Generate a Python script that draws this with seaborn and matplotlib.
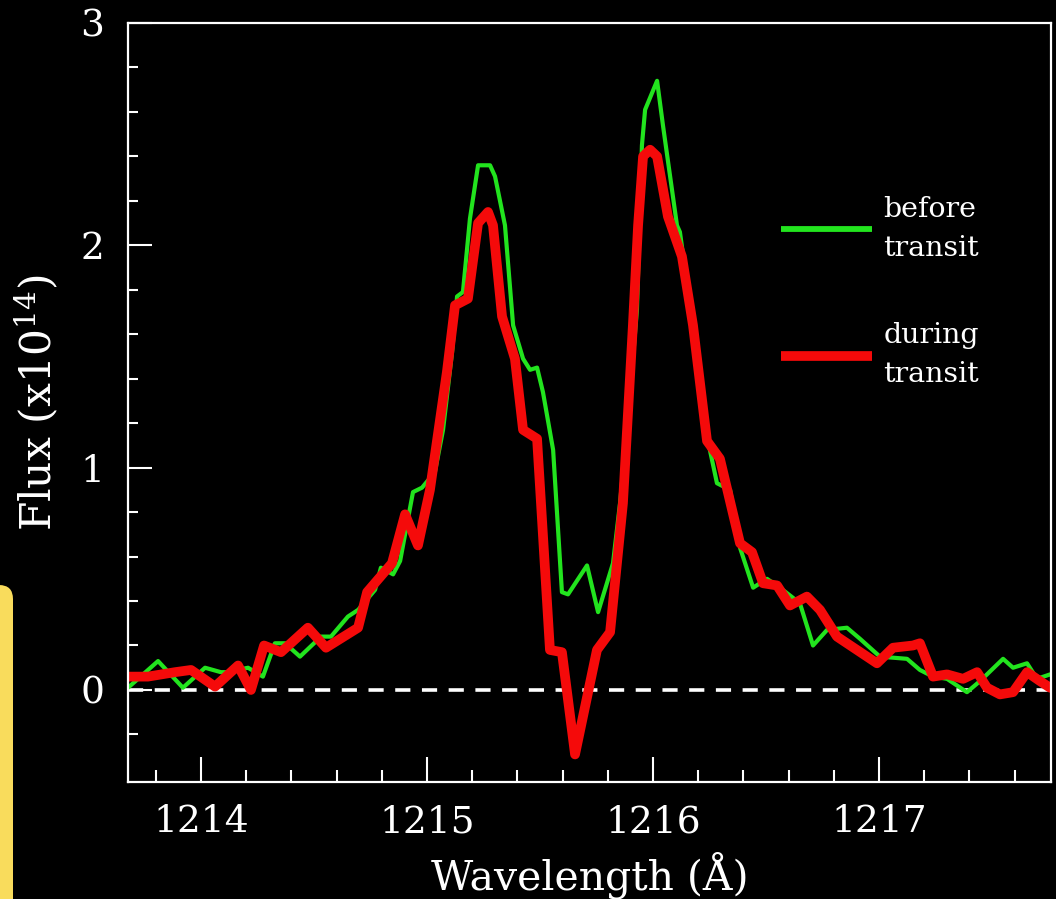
import matplotlib
matplotlib.use("Agg")
import numpy as np
import matplotlib.pyplot as plt
from matplotlib.ticker import MultipleLocator, FixedLocator
from matplotlib.patches import FancyBboxPatch
from matplotlib.transforms import IdentityTransform
import seaborn as sns

# Lyman-alpha emission line profile, before and during the planetary transit
wave_before = [1213.677, 1213.810, 1213.920, 1214.018, 1214.088, 1214.119, 1214.208, 1214.274,
               1214.327, 1214.372, 1214.438, 1214.531, 1214.575, 1214.650, 1214.695, 1214.770,
               1214.796, 1214.850, 1214.881, 1214.938, 1214.978, 1215.035, 1215.071, 1215.111,
               1215.133, 1215.159, 1215.190, 1215.226, 1215.279, 1215.301, 1215.345, 1215.381,
               1215.425, 1215.456, 1215.487, 1215.513, 1215.558, 1215.597, 1215.624, 1215.708,
               1215.757, 1215.823, 1215.854, 1215.885, 1215.929, 1215.951, 1215.965, 1216.018,
               1216.044, 1216.106, 1216.119, 1216.177, 1216.239, 1216.283, 1216.341, 1216.385,
               1216.443, 1216.504, 1216.562, 1216.650, 1216.708, 1216.770, 1216.858, 1216.916,
               1217.004, 1217.124, 1217.181, 1217.239, 1217.301, 1217.389, 1217.447, 1217.549,
               1217.593, 1217.655, 1217.699, 1217.757]
flux_before = [0.01, 0.13, 0.01, 0.10, 0.08, 0.08, 0.10, 0.06,
               0.21, 0.21, 0.15, 0.24, 0.24, 0.33, 0.36, 0.45,
               0.55, 0.52, 0.58, 0.89, 0.91, 0.98, 1.17, 1.52,
               1.77, 1.79, 2.12, 2.36, 2.36, 2.31, 2.09, 1.64,
               1.49, 1.44, 1.45, 1.34, 1.08, 0.44, 0.43, 0.56,
               0.35, 0.57, 0.84, 1.17, 1.71, 2.45, 2.61, 2.74,
               2.54, 2.09, 2.06, 1.64, 1.14, 0.93, 0.90, 0.64,
               0.46, 0.50, 0.46, 0.39, 0.20, 0.27, 0.28, 0.23,
               0.15, 0.14, 0.09, 0.06, 0.05, -0.01, 0.04, 0.14,
               0.10, 0.12, 0.05, 0.07]

wave_during = [1213.677, 1213.765, 1213.885, 1213.956, 1214.062, 1214.164, 1214.221, 1214.279,
               1214.354, 1214.473, 1214.553, 1214.695, 1214.735, 1214.845, 1214.903, 1214.960,
               1215.013, 1215.088, 1215.124, 1215.181, 1215.226, 1215.270, 1215.292, 1215.332,
               1215.389, 1215.425, 1215.487, 1215.544, 1215.597, 1215.655, 1215.752, 1215.810,
               1215.867, 1215.911, 1215.934, 1215.956, 1215.987, 1216.018, 1216.066, 1216.128,
               1216.177, 1216.239, 1216.296, 1216.385, 1216.438, 1216.487, 1216.549, 1216.606,
               1216.681, 1216.739, 1216.814, 1216.991, 1217.062, 1217.150, 1217.181, 1217.239,
               1217.301, 1217.372, 1217.434, 1217.478, 1217.535, 1217.593, 1217.655, 1217.712,
               1217.757]
flux_during = [0.06, 0.06, 0.08, 0.09, 0.015, 0.11, 0.00, 0.20,
               0.17, 0.28, 0.19, 0.28, 0.44, 0.57, 0.79, 0.65,
               0.90, 1.43, 1.73, 1.76, 2.10, 2.15, 2.09, 1.68,
               1.49, 1.17, 1.13, 0.18, 0.17, -0.29, 0.18, 0.26,
               0.84, 1.64, 2.09, 2.40, 2.43, 2.40, 2.13, 1.95,
               1.64, 1.12, 1.04, 0.66, 0.62, 0.48, 0.47, 0.38,
               0.42, 0.36, 0.24, 0.12, 0.19, 0.20, 0.21, 0.06,
               0.07, 0.05, 0.08, 0.01, -0.02, -0.01, 0.08, 0.04,
               0.01]

x_ticks = [1214, 1215, 1216, 1217]
y_ticks = [0, 1, 2, 3]
series_labels = ["before\ntransit", "during\ntransit"]
series_colors = ["#22e41e", "#f50a0a"]

sns.set_theme(style="dark")
plt.rcParams.update({
    "font.family": ["DejaVu Serif"],
    "mathtext.default": "regular",
    "figure.facecolor": "black",
    "axes.facecolor": "black",
    "savefig.facecolor": "black",
    "text.color": "white",
    "axes.labelcolor": "white",
    "xtick.color": "white",
    "ytick.color": "white",
})

W, H = 1056, 899
fig = plt.figure(figsize=(W / 100, H / 100), dpi=100)
ax = fig.add_axes([128 / W, 1 - 782 / H, 923 / W, 759 / H])

sns.lineplot(x=wave_before, y=flux_before, ax=ax, color=series_colors[0], lw=3.0,
             estimator=None, sort=False, label=series_labels[0], solid_joinstyle="round")
sns.lineplot(x=wave_during, y=flux_during, ax=ax, color=series_colors[1], lw=7.0,
             estimator=None, sort=False, label=series_labels[1], solid_joinstyle="round")
ax.axhline(0, color="white", lw=2.6, ls=(0, (4.2, 3.2)), zorder=1)

ax.set_xlim(1213.677, 1217.761)
ax.set_ylim(-0.414, 3.0)
ax.grid(False)

for side in ["left", "right", "top", "bottom"]:
    ax.spines[side].set_visible(True)
    ax.spines[side].set_color("white")
    ax.spines[side].set_linewidth(1.6)

ax.xaxis.set_major_locator(FixedLocator(x_ticks))
ax.xaxis.set_minor_locator(MultipleLocator(0.2))
ax.yaxis.set_major_locator(FixedLocator(y_ticks))
ax.yaxis.set_minor_locator(FixedLocator(np.arange(-0.2, 3.01, 0.2)))
ax.set_xticklabels([str(t) for t in x_ticks])
ax.set_yticklabels([str(t) for t in y_ticks])

ax.tick_params(axis="both", which="both", direction="in", width=1.5, colors="white",
               top=False, right=False, bottom=True, left=True)
ax.tick_params(axis="x", which="major", length=18, pad=16, labelsize=27)
ax.tick_params(axis="x", which="minor", length=9)
ax.tick_params(axis="y", which="major", length=17, pad=17, labelsize=27)
ax.tick_params(axis="y", which="minor", length=7.5)

ax.set_xlabel("Wavelength (Å)", fontsize=29.5)
ax.set_ylabel("Flux (x10$^{14}$)", fontsize=30.5)
ax.xaxis.set_label_coords(0.5, (782 - 875) / 759)
ax.yaxis.set_label_coords((37 - 128) / 923, 0.5)
ax.xaxis.label.set_va("center")
ax.yaxis.label.set_va("center")

leg = ax.legend(loc="center left", bbox_to_anchor=((781 - 128) / 923, (782 - 292) / 759),
                frameon=False, fontsize=20.5, handlelength=3.2, handletextpad=0.4,
                labelspacing=2.1, borderpad=0, borderaxespad=0, labelcolor="white")
for txt in leg.get_texts():
    txt.set_linespacing(1.6)
for line in leg.get_lines():
    line.set_solid_capstyle("butt")
leg.get_lines()[0].set_linewidth(4.2)
leg.get_lines()[1].set_linewidth(7.0)

# rounded yellow tab in the lower-left corner
tab = FancyBboxPatch((-40, -40), 53, 899 - 585 + 40,
                     boxstyle="round,pad=0,rounding_size=14",
                     transform=IdentityTransform(), facecolor="#f9dc5c",
                     edgecolor="none", zorder=10)
fig.patches.append(tab)

fig.savefig("out.png", dpi=100, facecolor="black")
